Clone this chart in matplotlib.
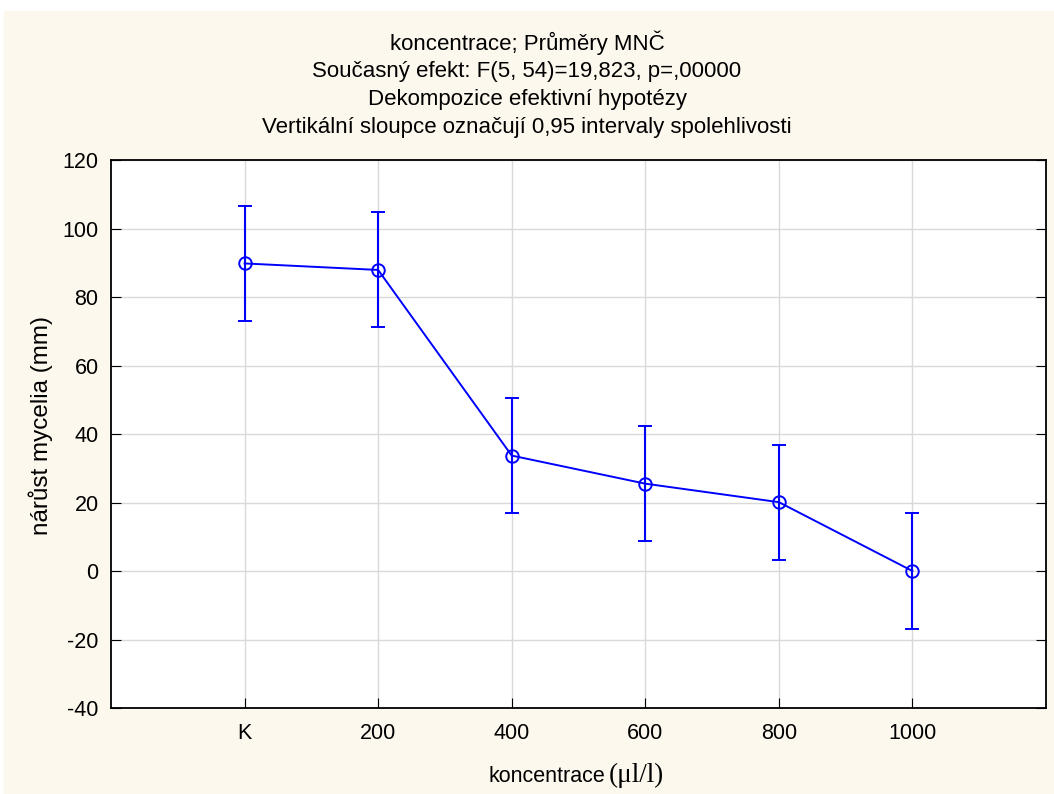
import numpy as np
import matplotlib.pyplot as plt

plt.rcParams['font.family'] = ['Liberation Sans', 'DejaVu Sans']
plt.rcParams['axes.unicode_minus'] = False

categories = ['K', '200', '400', '600', '800', '1000']
means = [89.8, 87.9, 33.7, 25.5, 20.1, 0.0]
ci_half = [16.8, 16.8, 16.8, 16.8, 16.8, 16.8]

title_lines = [
    'koncentrace; Průměry MNČ',
    'Současný efekt: F(5, 54)=19,823, p=,00000',
    'Dekompozice efektivní hypotézy',
    'Vertikální sloupce označují 0,95 intervaly spolehlivosti',
]

bg = '#fdf8ee'
fig = plt.figure(figsize=(10.54, 7.94), dpi=100, facecolor='white')
fig.patches.append(plt.Rectangle((4 / 1054, 0), 1, 1 - 11 / 794,
                                 transform=fig.transFigure, color=bg, zorder=-10))
ax = fig.add_axes([111 / 1054, 1 - 708 / 794, (1046 - 111) / 1054, (708 - 160) / 794])

x = np.arange(1, len(categories) + 1)
ax.errorbar(x, means, yerr=ci_half, color='#0000ff', lw=1.4, marker='o',
            ms=9, mfc='none', mec='#0000ff', mew=1.4, capsize=5, capthick=1.5,
            elinewidth=1.5, zorder=3)

ax.set_xlim(0, 7)
ax.set_ylim(-40, 120)
ax.set_xticks(x)
ax.set_xticklabels(categories)
ax.set_yticks(np.arange(-40, 121, 20))
ax.grid(True, color='#d9d9d9', lw=1)
ax.tick_params(direction='in', length=7, labelsize=15.5, right=True)
ax.tick_params(axis='y', pad=9)
ax.tick_params(axis='x', pad=11)
for s in ax.spines.values():
    s.set_linewidth(1.3)

ax.set_ylabel('nárůst mycelia (mm)', fontsize=17.5)
ax.yaxis.set_label_coords(-58 / 935, 0.516)

# x label: sans text followed by serif unit
fig.text(488 / 1054, 1 - 782 / 794, 'koncentrace', fontsize=15.5,
         ha='left', va='baseline')
fig.text(609 / 1054, 1 - 782 / 794, '(μl/l)', fontsize=19.5,
         family='Liberation Serif', ha='left', va='baseline')

for i, t in enumerate(title_lines):
    fig.text(0.5, 1 - (43 + 28 * i) / 794, t, ha='center', va='center', fontsize=16)

fig.savefig('out.png', dpi=100, facecolor=fig.get_facecolor())
